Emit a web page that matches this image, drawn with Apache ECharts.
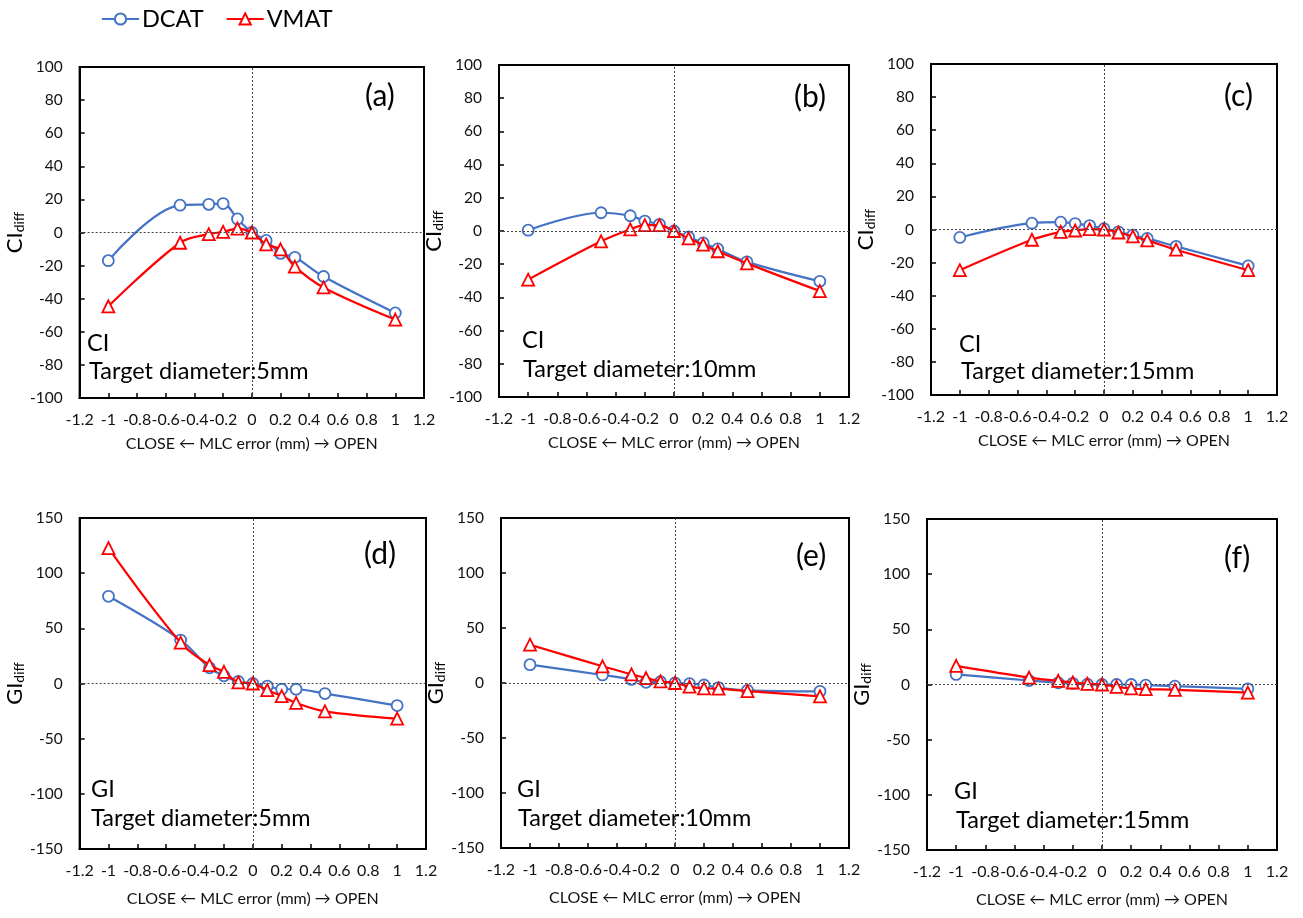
<!DOCTYPE html>
<html><head><meta charset="utf-8">
<script src="https://cdn.jsdelivr.net/npm/echarts@6/dist/echarts.min.js"></script>
<style>html,body{margin:0;padding:0;background:#fff}#c{width:1303px;height:918px}</style>
</head><body><div id="c"></div>
<script>
// ---- data ----
const xValues = [-1, -0.5, -0.3, -0.2, -0.1, 0, 0.1, 0.2, 0.3, 0.5, 1];
const seriesNames = ['DCAT', 'VMAT'];

const ciDcat5  = [-17, 16.5, 17, 17.5, 8.2, 0, -4.8, -12.6, -15, -26.6, -48.6];
const ciVmat5  = [-44.6, -6.2, -1, 0.4, 2.4, 0, -7.2, -10.2, -20.6, -33.2, -52.6];
const ciDcat10 = [0.5, 11, 9.2, 6, 4, 0, -3.6, -7.2, -10.8, -18.6, -30.3];
const ciVmat10 = [-29.3, -6.2, 1, 3.5, 3.5, 0, -4.5, -8.2, -12.2, -19.5, -36.2];
const ciDcat15 = [-4.8, 3.8, 4.4, 3.6, 2.4, 0.5, -1.4, -3.4, -5.4, -10.2, -22];
const ciVmat15 = [-24.6, -6.2, -1.4, -0.6, 0.2, 0, -1.8, -4.2, -6.6, -12.2, -24.6];

const giDcat5  = [79, 39.4, 14.2, 7, 1.8, 0, -2.4, -5.2, -5.2, -9.1, -20];
const giVmat5  = [122.7, 37, 16.7, 10.6, 1, 0, -6, -11.5, -17.6, -25.2, -31.8];
const giDcat10 = [16.7, 7.3, 3.3, 0.6, 1.2, 0, -0.6, -1.8, -4.2, -6.7, -7.6];
const giVmat10 = [34.8, 15.2, 7.9, 4.5, 1.5, 0, -3.3, -4.8, -5.2, -7.3, -12.1];
const giDcat15 = [9.1, 3.6, 1.5, 1, 0.3, 0, 0, 0, -0.6, -1.5, -3.9];
const giVmat15 = [16.9, 6.3, 3.3, 1.8, 0.6, 0, -2.1, -3.6, -4.2, -4.8, -7.3];

const panelTags = ['(a)', '(b)', '(c)', '(d)', '(e)', '(f)'];
const panelIndex = ['CI', 'CI', 'CI', 'GI', 'GI', 'GI'];
const panelTarget = ['Target diameter:5mm', 'Target diameter:10mm', 'Target diameter:15mm',
                     'Target diameter:5mm', 'Target diameter:10mm', 'Target diameter:15mm'];
const xAxisTitle = 'CLOSE \u2190 MLC error (mm) \u2192 OPEN';

// ---- layout ----
const FONT = 'Lato, "Open Sans", sans-serif';
const BLUE = '#4472C4', RED = '#FF0000';
const grids = [
  {left: 76,  top: 67,  width: 348, height: 331},
  {left: 499, top: 65,  width: 350, height: 332},
  {left: 931, top: 64,  width: 346, height: 331},
  {left: 77,  top: 518, width: 349, height: 331},
  {left: 501, top: 518, width: 348, height: 330},
  {left: 927, top: 519, width: 350, height: 331}
];
const panelData = [
  [ciDcat5, ciVmat5], [ciDcat10, ciVmat10], [ciDcat15, ciVmat15],
  [giDcat5, giVmat5], [giDcat10, giVmat10], [giDcat15, giVmat15]
];
const tagPos = [[365, 96], [794, 97], [1224, 96], [364, 554], [796, 556], [1224, 558]];
const idxPos = [[87, 343], [522, 340], [959, 344], [91, 789], [517, 789], [954, 791]];
const tgtPos = [[89, 371], [523, 369], [961, 371], [91, 818], [518, 818], [956, 820]];
const yNameGap = [46, 45, 47, 46, 45, 44];
const xNameGap = [38, 38, 38, 42, 42, 42];

const zip = (xs, ys) => xs.map((x, i) => [x, ys[i]]);

const xAxes = [], yAxes = [], series = [], graphics = [];
grids.forEach((g, i) => {
  const isCI = i < 3;
  xAxes.push({
    type: 'value', gridIndex: i, min: -1.2, max: 1.2, interval: 0.2,
    name: xAxisTitle, nameLocation: 'middle', nameGap: xNameGap[i],
    nameTextStyle: {fontFamily: FONT, fontSize: 16, color: '#111'},
    axisLine: {onZero: false, lineStyle: {color: '#000', width: 2}},
    axisTick: {inside: true, length: 5, lineStyle: {color: '#000', width: 1.5}},
    axisLabel: {fontFamily: FONT, fontSize: 16, color: '#111', margin: 14,
      formatter: v => String(parseFloat(Number(v).toFixed(1)))},
    splitLine: {show: false}
  });
  yAxes.push({
    type: 'value', gridIndex: i,
    min: isCI ? -100 : -150, max: isCI ? 100 : 150, interval: isCI ? 20 : 50,
    name: isCI ? '{m|CI}{s|diff}' : '{m|GI}{s|diff}',
    nameLocation: 'middle', nameGap: yNameGap[i],
    nameTextStyle: {rich: {
      m: {fontFamily: FONT, fontSize: 22, color: '#000', lineHeight: 22, verticalAlign: 'top'},
      s: {fontFamily: FONT, fontSize: 14, color: '#000', lineHeight: 14, verticalAlign: 'bottom', padding: [11, 0, 0, 0]}
    }},
    axisLine: {onZero: false, lineStyle: {color: '#000', width: 2}},
    axisTick: {inside: true, length: 5, lineStyle: {color: '#000', width: 1.5}},
    axisLabel: {fontFamily: FONT, fontSize: 15.5, color: '#111', margin: 17},
    splitLine: {show: false}
  });
  const [dc, vm] = panelData[i];
  series.push({
    name: seriesNames[0], type: 'line', xAxisIndex: i, yAxisIndex: i,
    data: zip(xValues, dc), smooth: 0.35,
    symbol: 'circle', symbolSize: 11, showAllSymbol: true,
    lineStyle: {color: BLUE, width: 2.2},
    itemStyle: {color: '#fff', borderColor: BLUE, borderWidth: 1.8},
    markLine: {
      silent: true, symbol: ['none', 'none'], label: {show: false}, animation: false,
      lineStyle: {color: '#444', type: [2, 2], width: 1},
      data: [{xAxis: 0}, {yAxis: 0}]
    },
    animation: false, z: 3
  });
  series.push({
    name: seriesNames[1], type: 'line', xAxisIndex: i, yAxisIndex: i,
    data: zip(xValues, vm), smooth: 0.35,
    symbol: 'triangle', symbolSize: 12, showAllSymbol: true,
    lineStyle: {color: RED, width: 2.2},
    itemStyle: {color: '#fff', borderColor: RED, borderWidth: 1.8},
    animation: false, z: 4
  });
  graphics.push({type: 'text', x: tagPos[i][0], y: tagPos[i][1], z: 10,
    style: {text: panelTags[i], font: '30px ' + FONT, fill: '#000', verticalAlign: 'middle'}});
  graphics.push({type: 'text', x: idxPos[i][0], y: idxPos[i][1], z: 10,
    style: {text: panelIndex[i], font: '23.5px ' + FONT, fill: '#000', verticalAlign: 'middle'}});
  graphics.push({type: 'text', x: tgtPos[i][0], y: tgtPos[i][1], z: 10,
    style: {text: panelTarget[i], font: '23.5px ' + FONT, fill: '#000', verticalAlign: 'middle'}});
});

const option = {
  backgroundColor: '#fff',
  animation: false,
  legend: {
    data: seriesNames, left: 96, top: 2, itemWidth: 37, itemHeight: 14, itemGap: 22,
    textStyle: {fontFamily: FONT, fontSize: 23.5, color: '#000', padding: [0, 0, 0, -2]}
  },
  grid: grids.map(g => Object.assign({show: true, borderColor: '#000', borderWidth: 2,
    backgroundColor: 'transparent'}, g)),
  xAxis: xAxes,
  yAxis: yAxes,
  series: series,
  graphic: graphics
};
const chart = echarts.init(document.getElementById('c'), null, {renderer: 'canvas'});
chart.setOption(option);
</script></body></html>
